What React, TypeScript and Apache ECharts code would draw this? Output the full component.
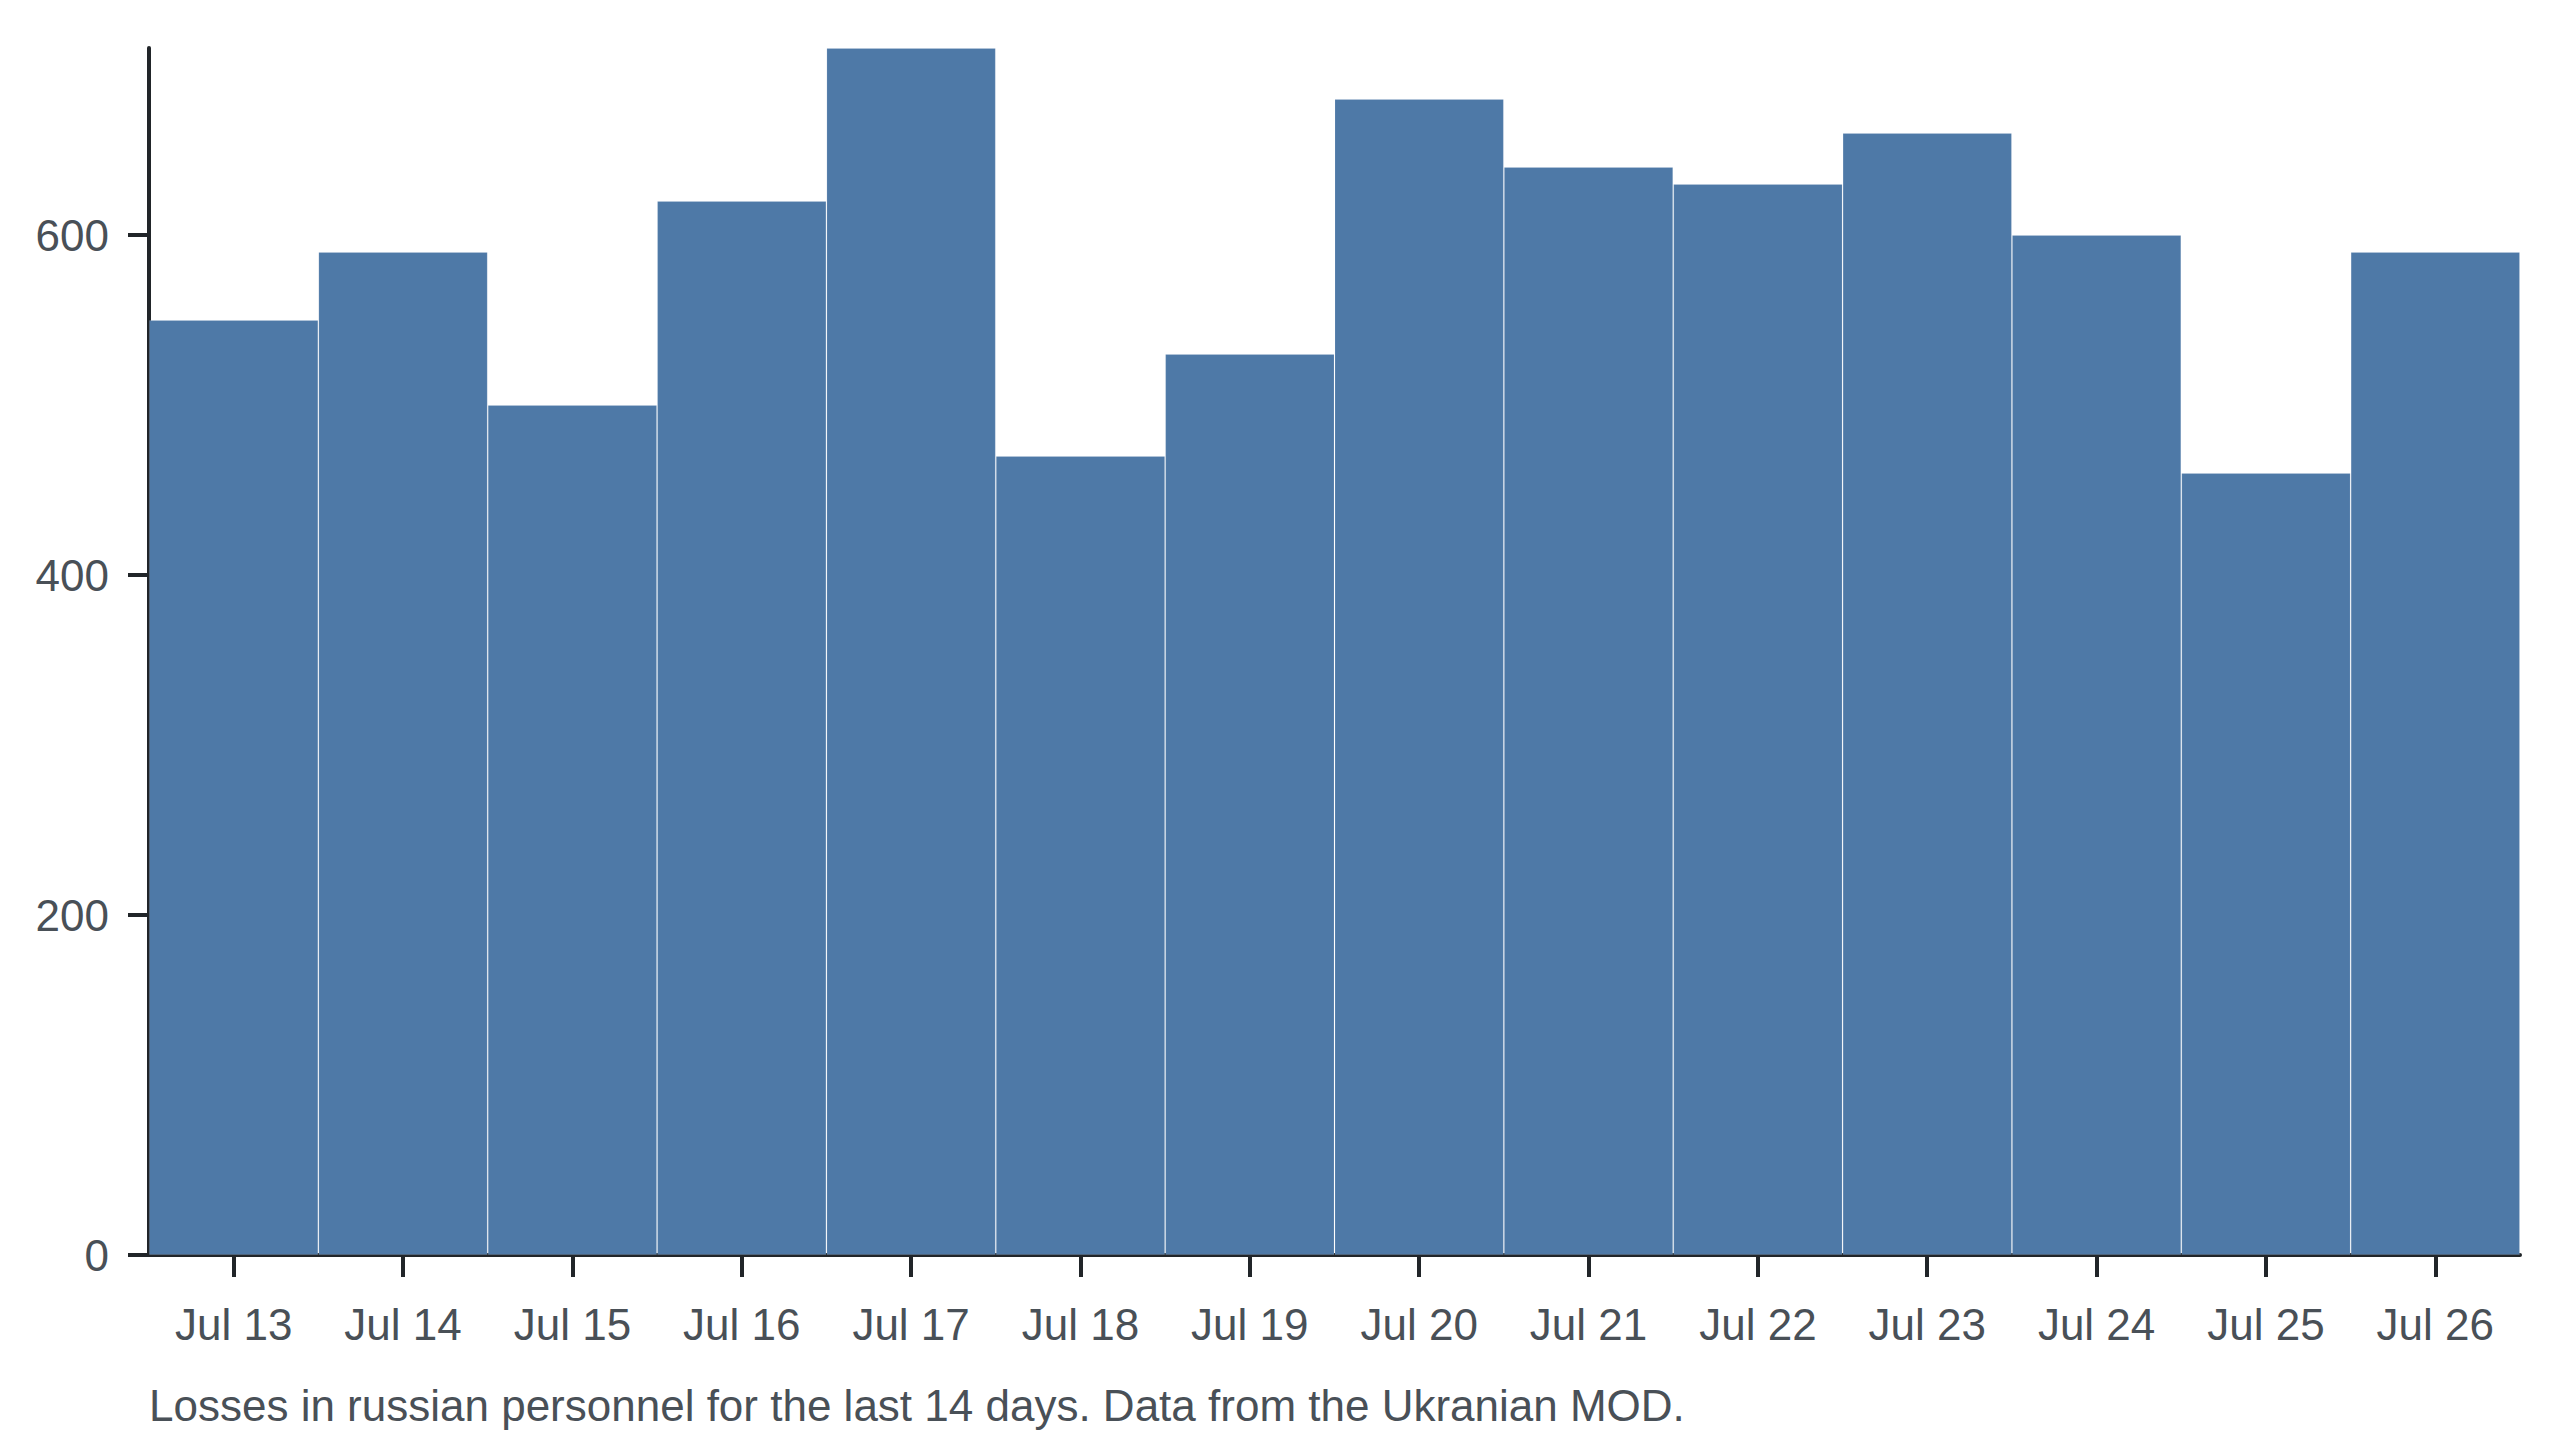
import React, { useEffect, useRef } from "react";
import * as echarts from "echarts";

const categories = [
  "Jul 13", "Jul 14", "Jul 15", "Jul 16", "Jul 17", "Jul 18", "Jul 19",
  "Jul 20", "Jul 21", "Jul 22", "Jul 23", "Jul 24", "Jul 25", "Jul 26",
];
const losses = [550, 590, 500, 620, 710, 470, 530, 680, 640, 630, 660, 600, 460, 590];
const yTickValues = [0, 200, 400, 600];
const caption = "Losses in russian personnel for the last 14 days. Data from the Ukranian MOD.";

const FONT = "'Liberation Sans', Arial, Helvetica, sans-serif";
const TEXT_COLOR = "#495057";
const AXIS_COLOR = "#212529";

export default function App() {
  const ref = useRef<HTMLDivElement>(null);

  useEffect(() => {
    document.body.style.margin = "0";
    if (!ref.current) return;
    const chart = echarts.init(ref.current, null, { renderer: "svg" });
    chart.setOption({
      animation: false,
      backgroundColor: "#ffffff",
      grid: { left: 149, right: 40, top: 48, bottom: 185, containLabel: false },
      xAxis: {
        type: "category",
        data: categories,
        boundaryGap: true,
        axisLine: { show: true, lineStyle: { color: AXIS_COLOR, width: 4 } },
        axisTick: { show: true, alignWithLabel: true, length: 22, lineStyle: { color: AXIS_COLOR, width: 4 } },
        axisLabel: { color: TEXT_COLOR, fontFamily: FONT, fontSize: 44, margin: 47 },
        splitLine: { show: false },
      },
      yAxis: {
        type: "value",
        min: 0,
        max: 710,
        axisLine: { show: true, lineStyle: { color: AXIS_COLOR, width: 4 } },
        axisTick: { show: true, length: 21, lineStyle: { color: AXIS_COLOR, width: 4 }, customValues: yTickValues },
        axisLabel: { color: TEXT_COLOR, fontFamily: FONT, fontSize: 44, margin: 40, customValues: yTickValues },
        splitLine: { show: false },
      },
      graphic: [
        {
          type: "text",
          left: 149,
          top: 1383,
          style: { text: caption, fill: TEXT_COLOR, font: `44px ${FONT}` },
        },
      ],
      series: [
        {
          type: "bar",
          data: losses,
          barWidth: "100%",
          barCategoryGap: 0,
          itemStyle: { color: "#4e79a7", borderColor: "rgba(255,255,255,0.12)", borderWidth: 1 },
        },
      ],
    });
    return () => chart.dispose();
  }, []);

  return <div ref={ref} style={{ width: 2560, height: 1440 }} />;
}
